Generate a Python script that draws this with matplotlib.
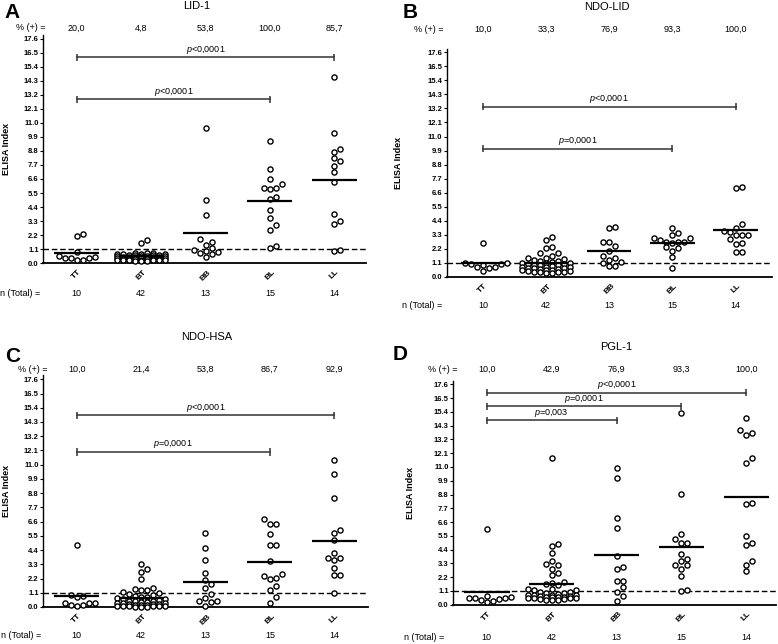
import numpy as np
import matplotlib.pyplot as plt

plt.rcParams['font.family'] = ['Liberation Sans', 'DejaVu Sans']
plt.rcParams['mathtext.fontset'] = 'custom'
plt.rcParams['mathtext.it'] = 'Liberation Sans:italic'
plt.rcParams['mathtext.rm'] = 'Liberation Sans'

grupos = ['TT', 'BT', 'BB', 'BL', 'LL']
n_total = [10, 42, 13, 15, 14]

# ---- A: LID-1
lid1_tt = [2.14, 2.25, 0.86, 0.39, 0.39, 0.52, 0.39, 0.2, 0.2, 0.5]
lid1_bt = [1.8, 1.55, 0.8, 0.78, 0.75, 0.72, 0.7, 0.7, 0.68, 0.65, 0.62, 0.6,
           0.6, 0.58, 0.55, 0.55, 0.52, 0.5, 0.5, 0.48, 0.45, 0.45, 0.42, 0.4,
           0.4, 0.38, 0.35, 0.35, 0.32, 0.3, 0.3, 0.28, 0.26, 0.25, 0.24, 0.22,
           0.22, 0.2, 0.2, 0.18, 0.18, 0.16]
lid1_bb = [10.64, 4.92, 3.79, 1.88, 1.65, 1.44, 1.18, 0.99, 0.92, 0.78, 0.7, 0.84, 0.47]
lid1_bl = [9.6, 7.37, 6.59, 6.22, 5.88, 5.83, 5.88, 5.05, 5.18, 4.13, 3.5, 2.98,
           2.56, 1.31, 1.15]
lid1_ll = [14.59, 10.2, 8.94, 8.7, 8.24, 7.98, 7.64, 7.14, 6.35, 3.84, 3.27, 3.09,
           0.97, 0.99]
lid1_media = [0.78, 0.52, 2.35, 4.89, 6.54]
lid1_pos = ['20,0', '4,8', '53,8', '100,0', '85,7']
lid1_p = [(0, 4, 16.16, '<0,0001'), (0, 3, 12.87, '<0,0001')]

# ---- B: NDO-LID
ndolid_tt = [2.62, 1.05, 1.05, 1.0, 1.0, 0.95, 0.8, 0.75, 0.7, 0.47]
ndolid_bt = [3.1, 2.9, 2.3, 2.25, 1.9, 1.85, 1.6, 1.5, 1.45, 1.4, 1.3, 1.25, 1.2,
             1.15, 1.08, 1.05, 1.05, 1.0, 1.0, 0.95, 0.9, 0.9, 0.85, 0.8, 0.8,
             0.75, 0.7, 0.7, 0.65, 0.6, 0.6, 0.55, 0.5, 0.5, 0.45, 0.45, 0.4,
             0.4, 0.35, 0.35, 0.3, 0.3]
ndolid_bb = [3.92, 3.79, 2.75, 2.69, 2.43, 2.04, 1.65, 1.49, 1.31, 1.18, 1.05,
             0.86, 0.86]
ndolid_bl = [3.84, 3.4, 3.27, 3.06, 3.0, 2.85, 2.75, 2.7, 2.7, 2.65, 2.3, 2.25,
             2.0, 1.55, 0.65]
ndolid_ll = [6.93, 7.01, 4.13, 3.84, 3.58, 3.48, 3.27, 3.27, 3.27, 2.93, 2.62,
             2.54, 1.96, 1.96]
ndolid_media = [1.05, 1.05, 2.01, 2.61, 3.66]
ndolid_pos = ['10,0', '33,3', '76,9', '93,3', '100,0']
ndolid_p = [(0, 4, 13.34, '<0,0001'), (0, 3, 10.04, '=0,0001')]

# ---- C: NDO-HSA
ndohsa_tt = [4.82, 0.95, 0.82, 0.77, 0.31, 0.31, 0.31, 0.13, 0.1, 0.13]
ndohsa_bt = [3.35, 2.96, 2.7, 2.19, 1.49, 1.42, 1.29, 1.29, 1.15, 1.05, 1.0,
             0.95, 0.85, 0.8, 0.75, 0.7, 0.65, 0.6, 0.55, 0.5, 0.5, 0.45, 0.4,
             0.35, 0.3, 0.3, 0.28, 0.25, 0.22, 0.2, 0.18, 0.15, 0.12, 0.1, 0.08,
             0.06, 0.05, 0.05, 0.04, 0.03, 0.02, 0.02]
ndohsa_bb = [5.72, 4.56, 3.61, 2.65, 2.06, 1.75, 1.47, 0.98, 0.7, 0.44, 0.39,
             0.46, 0.05]
ndohsa_bl = [6.78, 6.44, 6.44, 5.67, 4.77, 4.77, 3.56, 2.58, 2.37, 2.14, 2.27,
             1.62, 1.34, 0.75, 0.34]
ndohsa_ll = [11.39, 10.31, 8.43, 5.93, 5.72, 5.15, 4.18, 3.79, 3.81, 3.61, 3.04,
             2.5, 2.5, 1.08]
ndohsa_media = [0.85, 0.7, 1.93, 3.48, 5.08]
ndohsa_pos = ['10,0', '21,4', '53,8', '86,7', '92,9']
ndohsa_p = [(0, 4, 14.82, '<0,0001'), (0, 3, 11.98, '=0,0001')]

# ---- D: PGL-1
pgl1_tt = [6.07, 0.7, 0.65, 0.55, 0.53, 0.5, 0.45, 0.35, 0.27, 0.21]
pgl1_bt = [11.74, 4.82, 4.69, 4.13, 3.46, 3.14, 3.22, 2.88, 2.34, 2.56, 1.81,
           1.76, 1.62, 1.54, 1.28, 1.28, 1.2, 1.15, 1.05, 1.0, 0.95, 0.9, 0.85,
           0.8, 0.8, 0.75, 0.75, 0.7, 0.7, 0.65, 0.65, 0.6, 0.6, 0.55, 0.55,
           0.5, 0.5, 0.45, 0.45, 0.4, 0.4, 0.35]
pgl1_bb = [10.92, 10.12, 6.92, 6.15, 3.86, 3.01, 2.82, 1.89, 1.89, 1.41, 1.01,
           0.69, 0.27]
pgl1_bl = [15.34, 8.87, 5.64, 5.22, 4.95, 4.95, 4.07, 3.62, 3.46, 3.14, 3.14,
           2.82, 2.29, 1.08, 1.14]
pgl1_ll = [14.91, 13.92, 13.58, 13.74, 11.71, 11.34, 8.07, 8.15, 5.46, 4.79,
           4.93, 3.46, 3.19, 2.66]
pgl1_media = [1.01, 1.68, 3.94, 4.61, 8.6]
pgl1_pos = ['10,0', '42,9', '76,9', '93,3', '100,0']
pgl1_p = [(0, 4, 16.93, '<0,0001'), (0, 3, 15.84, '=0,0001'), (0, 2, 14.72, '=0,003')]

yticks = np.round(np.arange(0, 17.61, 1.1), 1)
corte = 1.1

W, H = 778, 644
fig = plt.figure(figsize=(W / 100, H / 100), dpi=100)


def fy(px):
    return 1 - px / H


def swarm_x(ax, x0, vals, d=6.0, max_k=4):
    # beeswarm simples em pixels
    vals = np.asarray(vals, float)
    tr = ax.transData
    py = tr.transform(np.column_stack([np.zeros(len(vals)), vals]))[:, 1]
    ppu = tr.transform((1, 0))[0] - tr.transform((0, 0))[0]
    cands = [0.0]
    for k in range(1, max_k + 1):
        cands += [k * d, -k * d]
    placed = []
    offs = np.zeros(len(vals))
    for i in np.argsort(vals):
        best, best_dist = 0.0, -1
        for c in cands:
            dist = min([np.hypot(c - a, py[i] - b) for a, b in placed], default=np.inf)
            if dist >= d * 0.95:
                best = c
                break
            if dist > best_dist:
                best, best_dist = c, dist
        placed.append((best, py[i]))
        offs[i] = best / ppu
    return x0 + offs


def painel(rect, xlim, dados, media, pos, pvals, titulo, letra, lay):
    ax = fig.add_axes(rect)
    ax.set_xlim(*xlim)
    ax.set_ylim(0, 17.9)
    for s in ['top', 'right']:
        ax.spines[s].set_visible(False)
    ax.spines['left'].set_linewidth(1.0)
    ax.spines['bottom'].set_linewidth(1.3)
    ax.set_yticks(yticks)
    ax.set_yticklabels([f'{v:.1f}' for v in yticks], fontsize=5.5, fontweight='bold')
    ax.tick_params(axis='y', length=2.5, width=0.8, pad=0.8)
    ax.set_xticks(range(5))
    ax.set_xticklabels(grupos, rotation=45, fontsize=6, fontweight='bold')
    ax.tick_params(axis='x', length=0, pad=4)
    ax.set_ylabel('ELISA Index', fontsize=6.5, fontweight='bold')
    ax.yaxis.set_label_coords(lay['ylab'], 0.5)

    ax.axhline(corte, color='black', lw=1.0, ls=(0, (4, 2)))
    for i, vals in enumerate(dados):
        xs = swarm_x(ax, i, vals)
        ax.plot(xs, vals, 'o', ms=3.7, mfc='white', mec='black', mew=1.0, clip_on=False, zorder=3)
        ax.hlines(media[i], i - 0.35, i + 0.35, color='black', lw=1.6, zorder=4)

    for a, b, h, txt in pvals:
        ax.plot([a, b], [h, h], color='#333333', lw=1.1)
        ax.vlines([a, b], h - 0.28, h + 0.28, color='#333333', lw=1.1)
        ax.text((a + b) / 2, h + 0.12, r'$\it{p}$' + txt, ha='center', va='bottom', fontsize=6.5)

    # textos em pixels da figura
    fig.text(lay['tit'][0] / W, fy(lay['tit'][1]), titulo, ha='center', va='center', fontsize=8)
    fig.text(lay['let'][0] / W, fy(lay['let'][1]), letra, ha='left', va='center',
             fontsize=15, fontweight='bold')
    fig.text(lay['pc'] / W, fy(lay['ypc']), '% (+) =', ha='right', va='center', fontsize=6.5)
    fig.text(lay['nt'] / W, fy(lay['ynt']), 'n (Total) =', ha='left', va='center', fontsize=6.5)
    for i in range(5):
        xf = fig.transFigure.inverted().transform(ax.transData.transform((i, 0)))[0]
        fig.text(xf, fy(lay['ypc']), pos[i], ha='center', va='center', fontsize=6.5)
        fig.text(xf, fy(lay['ynt']), str(n_total[i]), ha='center', va='center', fontsize=6.5)
    return ax


painel([0.0557, 0.5916, 0.4145, 0.3538], (-0.519, 4.49),
       [lid1_tt, lid1_bt, lid1_bb, lid1_bl, lid1_ll], lid1_media, lid1_pos, lid1_p,
       'LID-1', 'A',
       dict(tit=(197, 6), let=(4, 13), pc=46, ypc=28, nt=0, ynt=294, ylab=-0.1))
painel([0.5741, 0.5703, 0.4185, 0.3543], (-0.574, 4.58),
       [ndolid_tt, ndolid_bt, ndolid_bb, ndolid_bl, ndolid_ll], ndolid_media, ndolid_pos, ndolid_p,
       'NDO-LID', 'B',
       dict(tit=(607, 7), let=(403, 13), pc=444, ypc=29, nt=402, ynt=305, ylab=-0.135))
painel([0.0557, 0.0575, 0.4177, 0.3596], (-0.519, 4.53),
       [ndohsa_tt, ndohsa_bt, ndohsa_bb, ndohsa_bl, ndohsa_ll], ndohsa_media, ndohsa_pos, ndohsa_p,
       'NDO-HSA', 'C',
       dict(tit=(207, 337), let=(5, 357), pc=48, ypc=369, nt=1, ynt=635, ylab=-0.1))
painel([0.5827, 0.061, 0.4148, 0.348], (-0.516, 4.46),
       [pgl1_tt, pgl1_bt, pgl1_bb, pgl1_bl, pgl1_ll], pgl1_media, pgl1_pos, pgl1_p,
       'PGL-1', 'D',
       dict(tit=(616, 347), let=(393, 355), pc=457, ypc=369, nt=404, ynt=637, ylab=-0.12))

fig.savefig('out.png', dpi=100)
